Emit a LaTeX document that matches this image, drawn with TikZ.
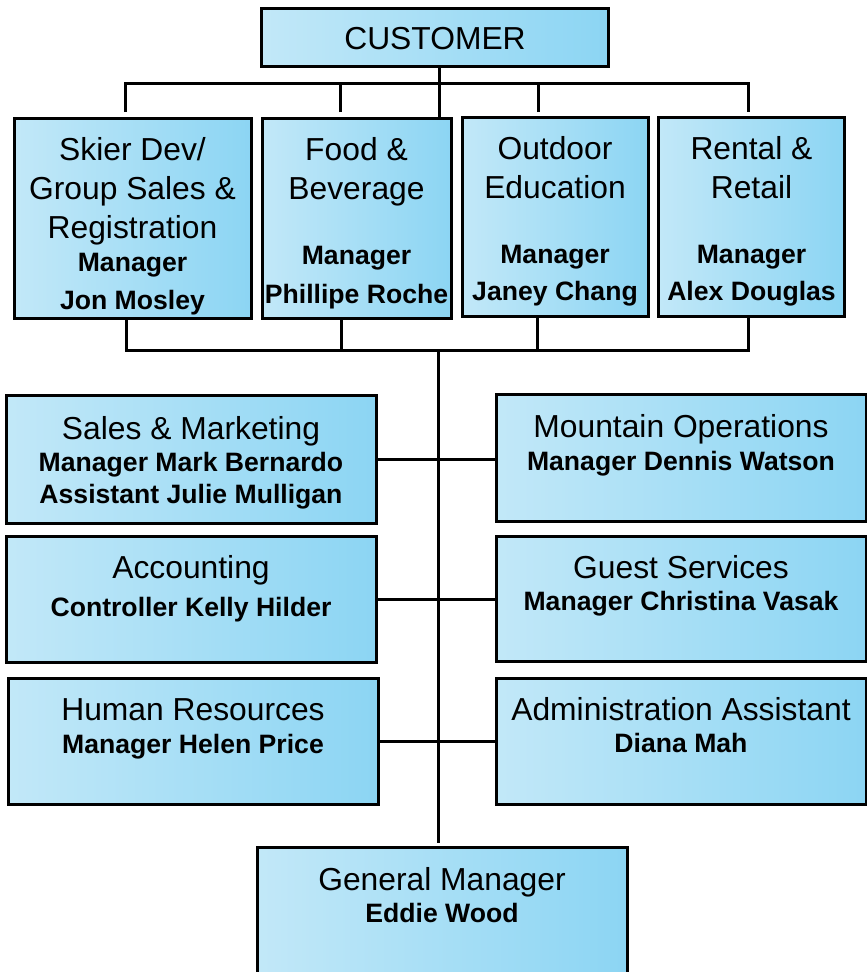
\documentclass[tikz,border=0pt]{standalone}
\usepackage{fontspec}
\setmainfont{Liberation Sans}
\usepackage{tikz}
\newcommand{\who}[1]{{\fontsize{26.6}{32}\selectfont\bfseries #1}}

\begin{document}
\begin{tikzpicture}[x=1pt,y=-1pt]
%%%%%%%%%%%%%%%%%%%%%%%%%%%%%%%%%%%%%%%%%%%%%%%%%%%%%%%%%%%%%%
\useasboundingbox (0,0) rectangle (867,972);
%styles
\definecolor{boxlight}{RGB}{194,232,248}
\definecolor{boxdark}{RGB}{140,213,243}
\tikzstyle{unit}=[rectangle,draw=black,line width=3pt,left color=boxlight,right color=boxdark,inner sep=0pt]
\tikzstyle{txt}=[anchor=north,align=center,inner sep=0pt,font=\fontsize{31.8}{39}\selectfont]
\tikzstyle{otxt}=[txt,font=\fontsize{31.8}{32}\selectfont]
\tikzstyle{wire}=[line width=3pt]
%boxes
\node[unit,minimum width=347pt,minimum height=58pt] (customer) at (434.5,37) {};
\node[unit,minimum width=237pt,minimum height=200pt] (skier) at (132.5,218) {};
\node[unit,minimum width=189pt,minimum height=200pt] (food) at (356.5,218) {};
\node[unit,minimum width=186pt,minimum height=199pt] (outdoor) at (555,216.5) {};
\node[unit,minimum width=186pt,minimum height=199pt] (rental) at (751,216.5) {};
\node[unit,minimum width=370pt,minimum height=128pt] (sales) at (191,459) {};
\node[unit,minimum width=370pt,minimum height=127pt] (mountain) at (681,457.5) {};
\node[unit,minimum width=370pt,minimum height=126pt] (accounting) at (191,599) {};
\node[unit,minimum width=370pt,minimum height=125pt] (guest) at (681,598.5) {};
\node[unit,minimum width=370pt,minimum height=126pt] (hr) at (193,741) {};
\node[unit,minimum width=370pt,minimum height=126pt] (admin) at (681,741) {};
\node[unit,minimum width=370pt,minimum height=153pt] (gm) at (442,923.5) {};
%texts
\node[txt] (customertxt) at (435,27.5) {CUSTOMER};
\node[txt] (skiertxt) at (132.5,137.5) {Skier Dev/\\Group Sales \&\\Registration\\[-6pt]\who{Manager}\\[-1pt]\who{Jon Mosley}};
\node[txt] (foodtxt) at (356.5,137.5) {Food \&\\Beverage\\[26pt]\who{Manager}\\\who{Phillipe Roche}};
\node[txt] (outdoortxt) at (555,136.5) {Outdoor\\Education\\[26pt]\who{Manager}\\[-2pt]\who{Janey Chang}};
\node[txt] (rentaltxt) at (751.5,136.5) {Rental \&\\Retail\\[26pt]\who{Manager}\\[-2pt]\who{Alex Douglas}};
\node[otxt] (salestxt) at (191,416) {Sales \& Marketing\\\who{Manager Mark Bernardo}\\\who{Assistant Julie Mulligan}};
\node[otxt] (mountaintxt) at (681,414.5) {Mountain Operations\\[1pt]\who{Manager Dennis Watson}};
\node[otxt] (accountingtxt) at (191,555) {Accounting\\[6pt]\who{Controller Kelly Hilder}};
\node[otxt] (guesttxt) at (681,555) {Guest Services\\[0pt]\who{Manager Christina Vasak}};
\node[otxt] (hrtxt) at (193,698.5) {Human Resources\\[1pt]\who{Manager Helen Price}};
\node[otxt] (admintxt) at (681,697) {Administration Assistant\\\who{Diana Mah}};
\node[otxt] (gmtxt) at (442,867) {General Manager\\\who{Eddie Wood}};
%%%%%%%%%%%%%%%%%%%%%%%%%%%%%%%%%%%%%%%%%%%%%%%%%%%%%%%%%%%%%%
%LINES
%upper bus
\coordinate (busTL) at (125,83);
\coordinate (busTR) at (748,83);
\coordinate (trunkA) at (439,83);
\coordinate (skierIn) at (125,112);
\coordinate (foodIn) at (340,112);
\coordinate (outdoorIn) at (538,112);
\coordinate (rentalIn) at (748,112);
\draw[wire] (skierIn) -- (busTL) -- (busTR) -- (rentalIn);
\draw[wire] (foodIn) -- (foodIn |- busTL);
\draw[wire] (outdoorIn) -- (outdoorIn |- busTL);
\draw[wire] (trunkA |- customer.south) -- (trunkA |- food.north);
%lower bus
\coordinate (busBL) at (126,350);
\coordinate (busBR) at (748,350);
\coordinate (foodOut) at (341,350);
\coordinate (outdoorOut) at (537,350);
\coordinate (trunkB) at (438,350);
\draw[wire] (busBL |- skier.south) -- (busBL) -- (busBR) -- (busBR |- rental.south);
\draw[wire] (foodOut |- food.south) -- (foodOut);
\draw[wire] (outdoorOut |- outdoor.south) -- (outdoorOut);
\draw[wire,shorten >=3pt] (trunkB) -- (trunkB |- gm.north);
%offices
\draw[wire] (sales.east) -- (sales.east -| mountain.west);
\draw[wire] (accounting.east) -- (accounting.east -| guest.west);
\draw[wire] (hr.east) -- (hr.east -| admin.west);
\end{tikzpicture}
\end{document}
